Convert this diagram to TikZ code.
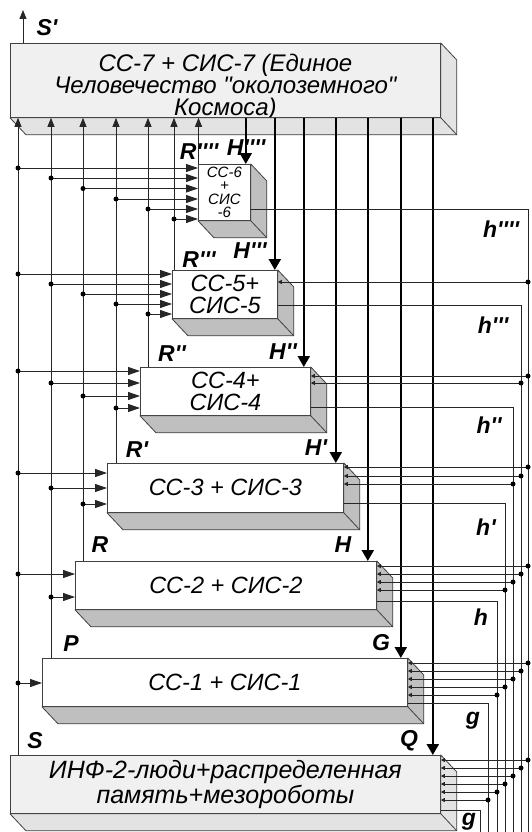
\documentclass[tikz,border=0pt]{standalone}
\usepackage{fontspec}
\setmainfont{Liberation Sans}[Ligatures=TeXOff]
\usepackage{tikz}
\usetikzlibrary{arrows.meta, positioning, calc}

% side and bottom face of a box
\newcommand{\slab}[2][black!25]{%
  \filldraw[side, fill=#1] (#2.north east) -- ++(16,17)
    -- ($(#2.south east)+(16,17)$) -- ($(#2.south west)+(16,17)$)
    -- (#2.south west) -- (#2.south east) -- cycle;
  \draw[side] (#2.south east) -- ++(16,17);}

\begin{document}
\begin{tikzpicture}[
  x=1pt, y=-1pt,
  txt/.style  = {align=center, inner sep=0,
                 font=\fontsize{23.5}{21.6}\selectfont\itshape},
  box/.style  = {txt, draw=black!75, line width=0.8, fill=white,
                 anchor=north west},
  gbox/.style = {box, fill=gray!12},
  side/.style = {draw=black!75, line width=0.8, line join=round},
  lab/.style  = {inner sep=0, font=\fontsize{23}{23}\selectfont\bfseries\itshape},
  wire/.style = {line width=0.9, black!85},
  up/.style   = {wire, -{Triangle[length=9pt, width=7pt]}},
  down/.style = {line width=2.2, -{Triangle[length=11pt, width=12pt]}},
  inarr/.style= {wire, -{Triangle[length=12pt, width=8pt]}},
  back/.style = {wire, -{Triangle[length=4pt, width=4pt]}},
]
\useasboundingbox (0,0) rectangle (531,832);

% Boxes, top to bottom
\node[gbox, minimum width=430, minimum height=74] (cc7) at (10,43) {};
\node[txt, font=\fontsize{24}{22}\selectfont\itshape] (cc7t) at ($(cc7.center)+(0,7)$)
  {СС-7 + СИС-7 (Единое\\Человечество "околоземного"\\Космоса)};
\node[box, minimum width=52, minimum height=56,
      font=\fontsize{15}{13.6}\selectfont\itshape] (cc6) at (198,164) {СС-6\\+\\СИС\\-6};
\node[box, minimum width=105, minimum height=48] (cc5) at (172,270) {СС-5+\\СИС-5};
\node[box, minimum width=170, minimum height=48] (cc4) at (140,367) {СС-4+\\СИС-4};
\node[box, minimum width=236, minimum height=49] (cc3) at (107,463) {СС-3 + СИС-3};
\node[box, minimum width=301, minimum height=48] (cc2) at (75,561)  {СС-2 + СИС-2};
\node[box, minimum width=365, minimum height=48] (cc1) at (42,658)  {СС-1 + СИС-1};
\node[gbox, minimum width=430, minimum height=58, font=\fontsize{25}{20}\selectfont\itshape]
  (inf) at (10,755) {ИНФ-2-люди+распределенная\\память+мезороботы};

\slab[gray!22]{cc7}
\slab{cc6} \slab{cc5} \slab{cc4} \slab{cc3} \slab{cc2} \slab{cc1}
\slab[gray!22]{inf}

% Line ends
\coordinate (bot) at (0,832);
\coordinate (sp)  at (23,10);
\coordinate (s)  at ($(inf.north west)+(8,0)$);
\coordinate (p)  at ($(cc1.north west)+(9,0)$);
\coordinate (r)  at ($(cc2.north west)+(8,0)$);
\coordinate (r1) at ($(cc3.north west)+(9,0)$);
\coordinate (r2) at ($(cc4.north west)+(8,0)$);
\coordinate (r3) at ($(cc5.north west)+(2,0)$);
\coordinate (r4) at ($(cc6.north west)+(0.5,0)$);
\coordinate (q)  at ($(inf.north east)+(-8,0)$);
\coordinate (g)  at ($(cc1.north east)+(-7,0)$);
\coordinate (hh) at ($(cc2.north east)+(-9,0)$);
\coordinate (h1) at ($(cc3.north east)+(-8,0)$);
\coordinate (h2) at ($(cc4.north east)+(-7,0)$);
\coordinate (h3) at ($(cc5.north east)+(-3,0)$);
\coordinate (h4) at ($(cc6.north east)+(-5,0)$);
\coordinate (f6) at (528,209);
\coordinate (f5) at (521,305);
\coordinate (f4) at (513,407);
\coordinate (f3) at (505,503);
\coordinate (f2) at (497,601);
\coordinate (f1) at (488,703);
\coordinate (f0) at (480,810);

% Up, down and feedback lines
\draw[up] (sp |- cc7.north) -- (sp);
\foreach \v in {s, p, r, r1, r2, r3, r4} \draw[up] (\v) -- (\v |- cc7.south);
\foreach \v in {q, g, hh, h1, h2, h3, h4} \draw[down] (\v |- cc7.south) -- (\v);
\foreach \v/\b in {f6/cc6, f5/cc5, f4/cc4, f3/cc3, f2/cc2, f1/cc1, f0/inf}
  \draw[wire] (\v -| \b.east) -- (\v) -- (\v |- bot);

% Inputs on the left
\foreach \b/\v/\dy in {cc6/s/4, cc6/p/14, cc6/r/24.5, cc6/r1/35, cc6/r2/45, cc6/r3/55,
    cc5/s/4, cc5/p/14, cc5/r/24, cc5/r1/34, cc5/r2/44,
    cc4/s/4, cc4/p/16, cc4/r/29, cc4/r1/41,
    cc3/s/10, cc3/p/25, cc3/r/41, cc2/s/13, cc2/p/36, cc1/s/25}
  {\coordinate (t) at ($(\b.north west)+(0,\dy)$);
   \draw[inarr] (\v |- t) -- (t); \fill (\v |- t) circle (2.5pt);}

% Inputs on the right
\foreach \b/\v/\dy in {cc5/f6/12, cc4/f6/9, cc4/f5/16,
    cc3/f6/4, cc3/f5/13, cc3/f4/21,
    cc2/f6/5, cc2/f5/13, cc2/f4/21, cc2/f3/29,
    cc1/f6/5, cc1/f5/13, cc1/f4/21, cc1/f3/29, cc1/f2/37,
    inf/f6/5, inf/f5/13, inf/f4/21, inf/f3/29, inf/f2/37, inf/f1/45}
  {\coordinate (t) at ($(\b.north east)+(0,\dy)$);
   \draw[back] (\v |- t) -- (t); \fill (\v |- t) circle (2.5pt);}

% Labels
\node[lab] (lsp) at (47,28)   {S'};
\node[lab] (lr4) at (199,152) {R''''};
\node[lab] (lh4) at (246,148) {H''''};
\node[lab] (lr3) at (199,260) {R'''};
\node[lab] (lh3) at (250,251) {H'''};
\node[lab] (lr2) at (172,354) {R''};
\node[lab] (lh2) at (283,352) {H''};
\node[lab] (lr1) at (137,450) {R'};
\node[lab] (lh1) at (316,448) {H'};
\node[lab] (lr)  at (100,545) {R};
\node[lab] (lh)  at (343,545) {H};
\node[lab] (lp)  at (71,644)  {P};
\node[lab] (lg)  at (381,643) {G};
\node[lab] (ls)  at (35,741)  {S};
\node[lab] (lq)  at (409,741) {Q};
\node[lab] (lf6) at (501,229) {h''''};
\node[lab] (lf5) at (493,325) {h'''};
\node[lab] (lf4) at (489,425) {h''};
\node[lab] (lf3) at (486,527) {h'};
\node[lab] (lf2) at (481,617) {h};
\node[lab] (lf1) at (473,721) {g};
\node[lab] (lf0) at (469,822) {g};
\end{tikzpicture}
\end{document}
